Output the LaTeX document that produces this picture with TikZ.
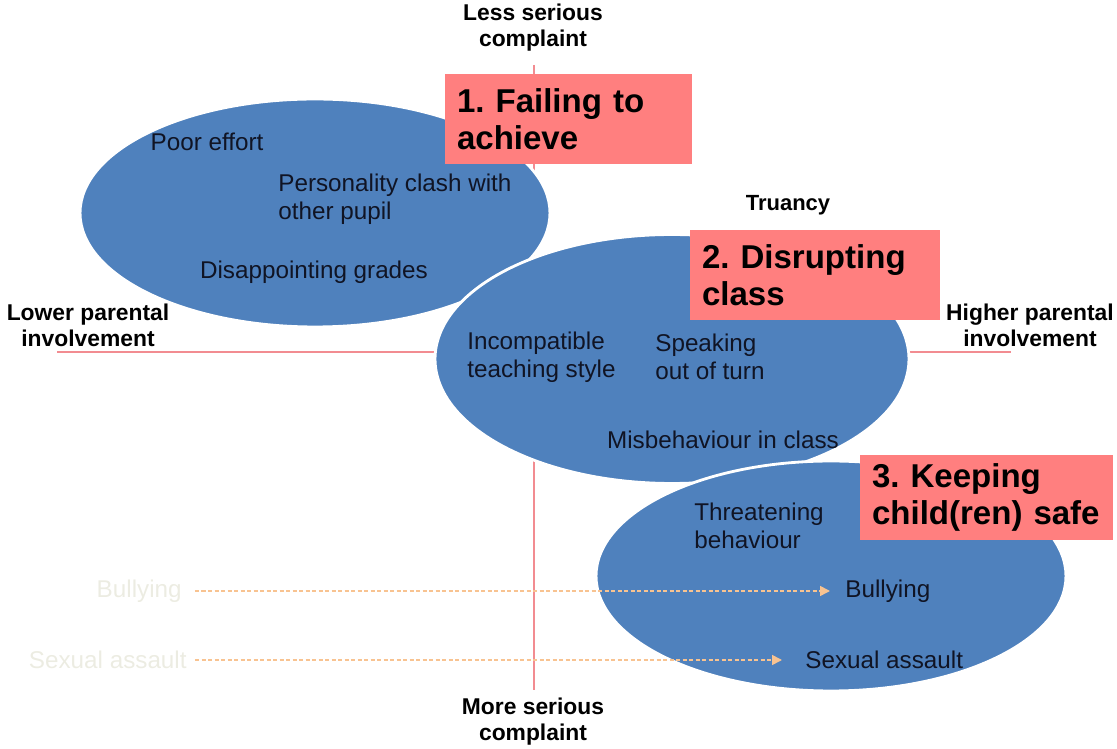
\documentclass[tikz,border=0pt]{standalone}
\usepackage{fontspec}
\setmainfont{Liberation Sans}
\usetikzlibrary{shapes.geometric,arrows.meta}
\definecolor{ellblue}{RGB}{79,129,189}
\definecolor{boxpink}{RGB}{255,127,127}
\definecolor{axpink}{RGB}{242,140,145}
\definecolor{dasharr}{RGB}{248,195,145}
\definecolor{fadetxt}{RGB}{236,236,226}
\definecolor{ink}{RGB}{16,20,36}
\begin{document}
\frenchspacing
\begin{tikzpicture}[x=0.02cm,y=-0.02cm,
  ell/.style={ellipse, fill=ellblue, draw=white, line width=1.6pt, inner sep=0},
  catbox/.style={rectangle, fill=boxpink, draw=none, inner xsep=0.24cm, inner ysep=0,
    align=left, font=\fontsize{18.8}{21}\selectfont\bfseries, text=black},
  itemtxt/.style={inner sep=0, align=left, font=\fontsize{13.8}{16}\selectfont, text=ink},
  fadetext/.style={inner sep=0, font=\fontsize{13.8}{16}\selectfont, text=fadetxt},
  axlabel/.style={inner sep=0, align=center, font=\fontsize{13}{14.7}\selectfont\bfseries, text=black},
  axline/.style={draw=axpink, line width=1.4pt},
  movearrow/.style={draw=dasharr, line width=0.9pt, dash pattern=on 2.4pt off 1.3pt,
    -{Triangle[length=0.2cm,width=0.2cm]}}
]
\useasboundingbox (0,0) rectangle (1117,749);

% axes
\coordinate (axL) at (57,352);
\coordinate (axR) at (1011,352);
\coordinate (axT) at (534,65);
\coordinate (axB) at (534,690);
\draw[axline] (axL) -- (axR);
\draw[axline] (axT) -- (axB);

% ellipses
\node[ell, minimum width=9.4cm, minimum height=4.56cm] (e1) at (315,213) {};
\node[ell, minimum width=9.48cm, minimum height=4.98cm] (e2) at (672,359) {};
\node[ell, minimum width=9.4cm, minimum height=4.6cm] (e3) at (831,576) {};

% category boxes
\node[catbox, text width=4.46cm, minimum height=1.8cm] (b1) at (568.5,119) {1. Failing to\\achieve};
\node[catbox, text width=4.52cm, minimum height=1.8cm] (b2) at (815,275) {2. Disrupting\\class};
\node[catbox, text width=4.58cm, minimum height=1.7cm] (b3) at (986.5,497.5) {3. Keeping\\child(ren) safe};

% axis labels
\node[axlabel] (lt) at (533,28) {Less serious\\complaint};
\node[axlabel] (lb) at (533,722) {More serious\\complaint};
\node[axlabel] (ll) at (88,325) {Lower parental\\involvement};
\node[axlabel] (lr) at (1030,325) {Higher parental\\involvement};
\node[axlabel, font=\fontsize{12.5}{14}\selectfont\bfseries] (tru) at (788,205) {Truancy};

% items
\node[itemtxt] (t1) at (207,142) {Poor effort};
\node[itemtxt, anchor=west] (t2) at (278,199) {Personality clash with\\other pupil};
\node[itemtxt] (t3) at (314,272) {Disappointing grades};
\node[itemtxt, anchor=west] (t4) at (467,357) {Incompatible\\teaching style};
\node[itemtxt, anchor=west] (t5) at (655,357) {Speaking\\out of turn};
\node[itemtxt] (t6) at (723,440) {Misbehaviour in class};
\node[itemtxt, anchor=west] (t7) at (694,526) {Threatening\\behaviour};
\node[itemtxt, anchor=west] (ib) at (845,591) {Bullying};
\node[itemtxt, anchor=west] (is) at (805,660) {Sexual assault};

% faded origins
\node[fadetext, anchor=east] (fb) at (182,591) {Bullying};
\node[fadetext, anchor=east] (fs) at (187,660) {Sexual assault};

% arrows
\draw[movearrow, shorten <=0.26cm, shorten >=0.3cm] (fb.east) -- (ib.west);
\draw[movearrow, shorten <=0.16cm, shorten >=0.46cm] (fs.east) -- (is.west);
\end{tikzpicture}
\end{document}
